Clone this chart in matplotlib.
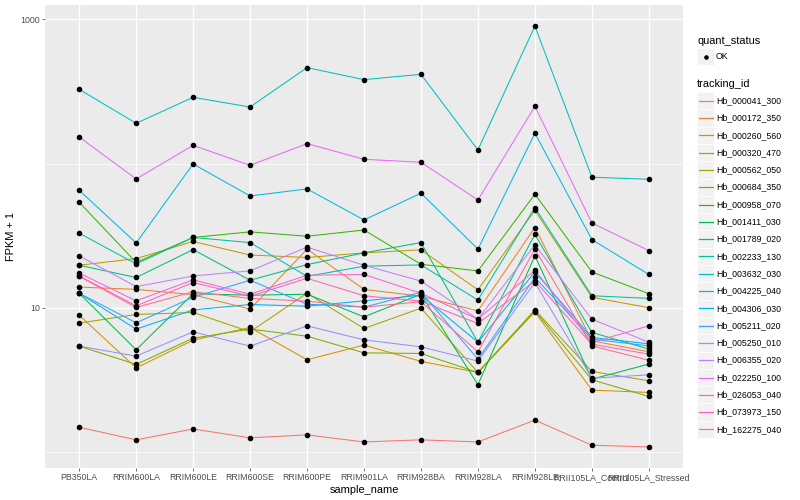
import numpy as np
import matplotlib
matplotlib.use("Agg")
import matplotlib.pyplot as plt
from matplotlib.lines import Line2D
from matplotlib.patches import Rectangle
from matplotlib.ticker import FixedLocator, NullFormatter

plt.rcParams['font.family'] = ['Liberation Sans', 'DejaVu Sans']

samples = ["PB350LA", "RRIM600LA", "RRIM600LE", "RRIM600SE", "RRIM600PE",
           "RRIM901LA", "RRIM928BA", "RRIM928LA", "RRIM928LE",
           "RRII105LA_Control", "RRII105LA_Stressed"]

genes = ["Hb_000041_300", "Hb_000172_350", "Hb_000260_560", "Hb_000320_470",
         "Hb_000562_050", "Hb_000684_350", "Hb_000958_070", "Hb_001411_030",
         "Hb_001789_020", "Hb_002233_130", "Hb_003632_030", "Hb_004225_040",
         "Hb_004306_030", "Hb_005211_020", "Hb_005250_010", "Hb_006355_020",
         "Hb_022250_100", "Hb_026053_040", "Hb_073973_150", "Hb_162275_040"]

# ggplot default hue palette for 20 levels
colors = ["#F8766D", "#EA8331", "#D89000", "#C09B00", "#A3A500", "#7CAE00",
          "#39B600", "#00BB4E", "#00BF7D", "#00C1A3", "#00BFC4", "#00BAE0",
          "#00B0F6", "#35A2FF", "#9590FF", "#C77CFF", "#E76BF3", "#FA62DB",
          "#FF62BC", "#FF6C91"]

# FPKM per sample (plotted as FPKM + 1)
hb_000041_300 = [0.48, 0.21, 0.44, 0.25, 0.31, 0.17, 0.21, 0.17, 0.66, 0.11, 0.08]
hb_000172_350 = [12.9, 12.4, 11.3, 8.76, 24.5, 12.4, 11.0, 8.50, 35.0, 4.89, 3.95]
hb_000260_560 = [7.87, 2.82, 4.95, 6.29, 3.35, 4.50, 3.24, 2.55, 8.35, 1.68, 1.58]
hb_000320_470 = [18.7, 20.9, 27.8, 22.2, 21.3, 23.0, 24.2, 12.3, 46.5, 10.8, 9.0]
hb_000562_050 = [6.81, 7.97, 8.26, 5.80, 11.6, 6.17, 8.92, 2.55, 8.65, 2.61, 2.11]
hb_000684_350 = [4.41, 3.04, 5.14, 6.10, 5.34, 3.86, 3.81, 2.55, 8.53, 2.16, 1.42]
hb_000958_070 = [52.9, 19.6, 29.7, 32.6, 30.3, 33.6, 19.0, 17.0, 60.3, 16.7, 11.5]
hb_001411_030 = [11.6, 4.10, 11.5, 11.2, 11.4, 7.64, 11.4, 1.92, 21.9, 2.19, 3.06]
hb_001789_020 = [18.7, 15.2, 24.3, 14.5, 18.9, 23.0, 27.3, 4.76, 31.3, 5.73, 4.16]
hb_002233_130 = [31.9, 19.1, 29.7, 27.3, 15.5, 18.4, 18.8, 10.3, 48.5, 11.1, 10.6]
hb_003632_030 = [326.5, 189.3, 287.3, 245.9, 462.3, 381.4, 415.2, 123.3, 899.3, 79.4, 76.8]
hb_004225_040 = [64.3, 27.1, 98.4, 58.6, 65.7, 39.6, 61.3, 24.5, 161.3, 28.7, 16.0]
hb_004306_030 = [11.6, 6.10, 8.65, 9.52, 9.24, 10.15, 11.2, 4.76, 16.7, 5.21, 4.61]
hb_005211_020 = [11.6, 6.85, 10.8, 14.5, 9.58, 9.08, 11.8, 3.39, 15.2, 5.05, 4.43]
hb_005250_010 = [4.41, 3.61, 5.80, 4.41, 6.48, 4.98, 4.35, 3.26, 13.95, 2.24, 2.42]
hb_006355_020 = [21.9, 13.0, 15.6, 17.0, 25.3, 18.7, 14.3, 7.32, 26.3, 7.32, 4.76]
hb_022250_100 = [151.9, 77.2, 132.9, 96.3, 136.6, 106.1, 101.1, 54.9, 248.7, 37.7, 23.9]
hb_026053_040 = [16.4, 10.15, 14.6, 11.4, 15.8, 16.0, 11.6, 7.32, 17.2, 4.74, 6.48]
hb_073973_150 = [15.6, 9.29, 13.95, 11.0, 15.0, 11.1, 10.1, 6.77, 14.3, 4.58, 3.76]
hb_162275_040 = [15.5, 9.03, 11.9, 10.6, 10.1, 9.08, 10.0, 3.94, 24.5, 4.43, 3.32]

rows = [hb_000041_300, hb_000172_350, hb_000260_560, hb_000320_470,
        hb_000562_050, hb_000684_350, hb_000958_070, hb_001411_030,
        hb_001789_020, hb_002233_130, hb_003632_030, hb_004225_040,
        hb_004306_030, hb_005211_020, hb_005250_010, hb_006355_020,
        hb_022250_100, hb_026053_040, hb_073973_150, hb_162275_040]

W, H = 800, 500
fig = plt.figure(figsize=(W / 100, H / 100), dpi=100)
ax = fig.add_axes([45 / W, 32 / H, 638 / W, 463 / H])
ax.set_facecolor('#EBEBEB')

x = np.arange(1, len(samples) + 1)
for vals, col in zip(rows, colors):
    ax.plot(x, np.array(vals) + 1, color=col, lw=0.75, zorder=2)
for vals in rows:
    ax.plot(x, np.array(vals) + 1, 'o', color='black', ms=3, ls='none', zorder=3)

ax.set_yscale('log')
logs = np.log10(np.array(rows) + 1)
lo, hi = logs.min(), logs.max()
pad = (hi - lo) * 0.05
ax.set_ylim(10 ** (lo - pad), 10 ** (hi + pad))
ax.set_xlim(0.4, len(samples) + 0.6)

ax.yaxis.set_major_locator(FixedLocator([10, 1000]))
ax.set_yticklabels(['10', '1000'])
ax.yaxis.set_minor_locator(FixedLocator([1, 100]))
ax.yaxis.set_minor_formatter(NullFormatter())
ax.set_xticks(x)
ax.set_xticklabels(samples)

ax.grid(which='major', color='white', lw=1.0)
ax.grid(which='minor', axis='y', color='white', lw=0.5)
ax.set_axisbelow(True)
for s in ax.spines.values():
    s.set_visible(False)
ax.tick_params(which='major', length=2, width=0.5, color='#333333',
               labelsize=6.3, labelcolor='#4D4D4D', pad=1.5)
ax.tick_params(which='minor', length=0)
ax.set_xlabel('sample_name', fontsize=7.9, labelpad=2)
ax.set_ylabel('FPKM + 1', fontsize=7.9, labelpad=3)


# legends, drawn by hand in figure pixel coordinates
def fx(px):
    return px / W


def fy(py):
    return 1 - py / H


key = 17.3
kx = 697

fig.text(fx(kx), fy(40.7), 'quant_status', fontsize=7.9, va='center', ha='left')
fig.add_artist(Rectangle((fx(kx), fy(56.7 + key / 2)), key / W, key / H,
                         transform=fig.transFigure, facecolor='#F2F2F2',
                         edgecolor='white', lw=0.5))
fig.add_artist(Line2D([fx(kx + key / 2)], [fy(56.7)], marker='o', color='black',
                      ms=2.3, transform=fig.transFigure))
fig.text(fx(716), fy(56.7), 'OK', fontsize=6.3, va='center', ha='left')

fig.text(fx(kx), fy(84.3), 'tracking_id', fontsize=7.9, va='center', ha='left')
for i, (g, col) in enumerate(zip(genes, colors)):
    cy = 100.7 + i * key
    fig.add_artist(Rectangle((fx(kx), fy(cy + key / 2)), key / W, key / H,
                             transform=fig.transFigure, facecolor='#F2F2F2',
                             edgecolor='white', lw=0.5))
    fig.add_artist(Line2D([fx(kx + 1.5), fx(kx + key - 1.5)], [fy(cy), fy(cy)],
                          color=col, lw=0.9, transform=fig.transFigure))
    fig.text(fx(716), fy(cy), g, fontsize=6.3, va='center', ha='left')

fig.savefig('out.png', dpi=100)
